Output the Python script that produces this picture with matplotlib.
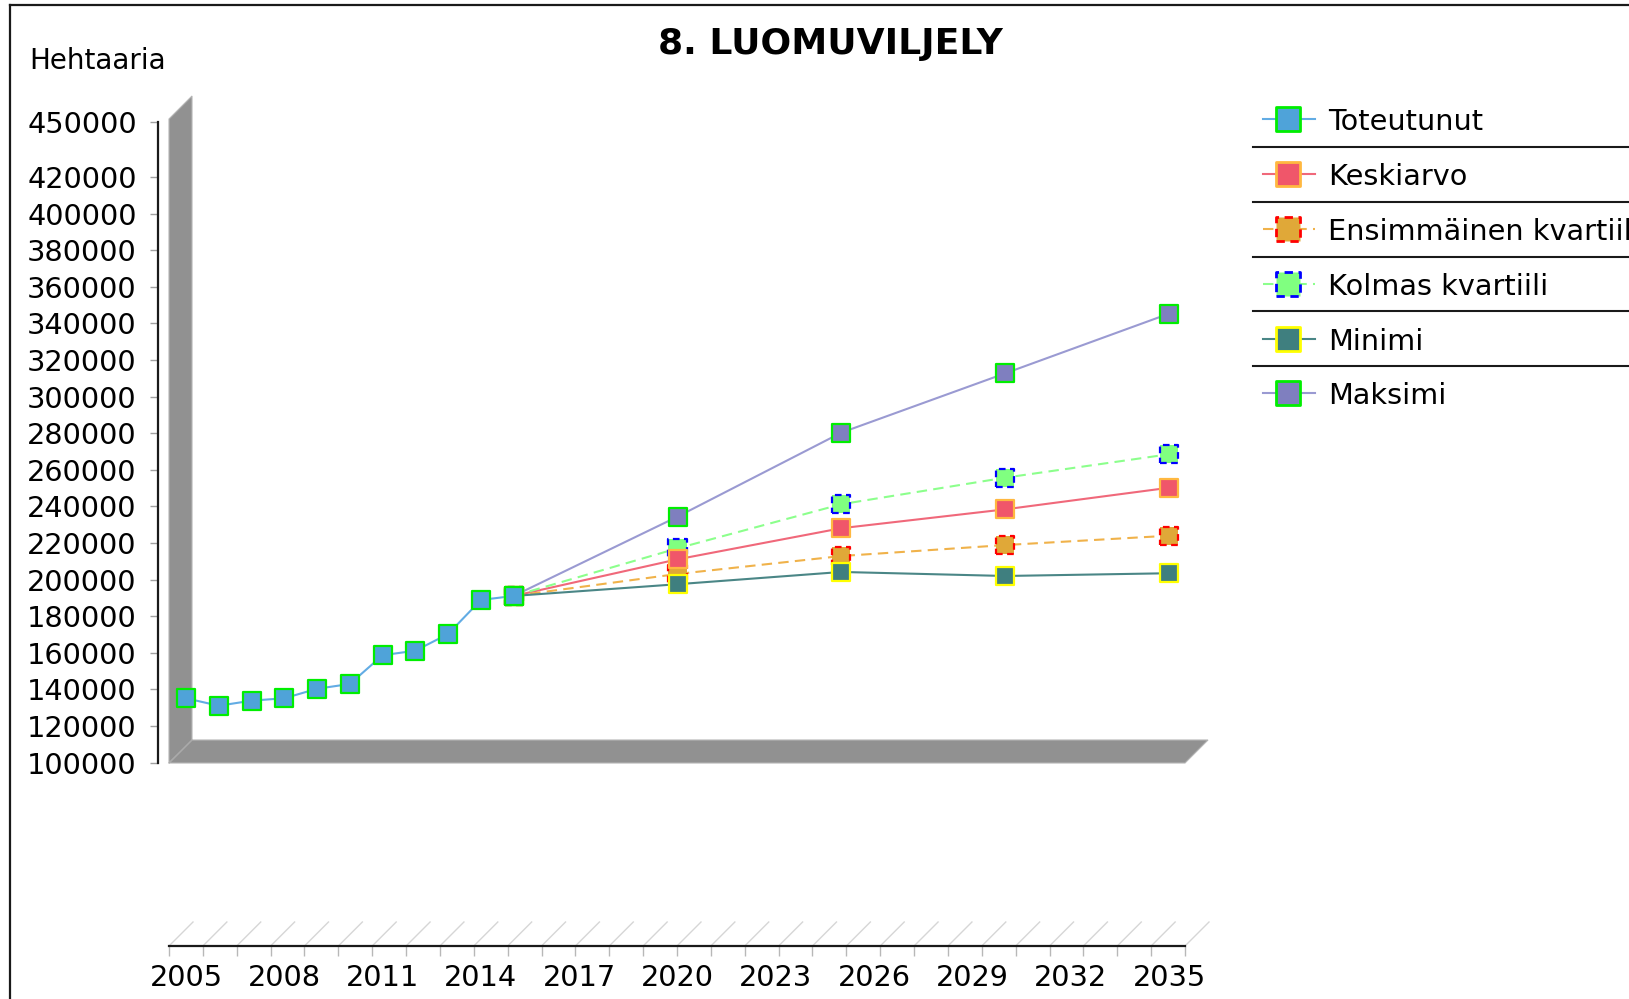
import matplotlib
matplotlib.use("Agg")
import matplotlib.pyplot as plt
from matplotlib.patches import Polygon

W, H = 1629, 999

# data (hehtaaria)
years_hist = [2005, 2006, 2007, 2008, 2009, 2010, 2011, 2012, 2013, 2014, 2015]
toteutunut = [135200, 131100, 133900, 135200, 140400, 143000, 158700, 161200, 170300, 188900, 191100]
years_fc = [2015, 2020, 2025, 2030, 2035]
keskiarvo = [191100, 211100, 228100, 238400, 250200]
ensimmainen = [191100, 203100, 212900, 218900, 224000]
kolmas = [191100, 217100, 241200, 255700, 268500]
minimi = [191100, 197500, 204200, 202000, 203500]
maksimi = [191100, 234400, 280300, 312700, 345300]

y_ticks = [100000, 120000, 140000, 160000, 180000, 200000, 220000, 240000, 260000,
           280000, 300000, 320000, 340000, 360000, 380000, 400000, 420000, 450000]
x_labels = list(range(2005, 2036, 3))

names = ["Toteutunut", "Keskiarvo", "Ensimmäinen kvartiili", "Kolmas kvartiili", "Minimi", "Maksimi"]
# (line colour, fill, edge, dashed)
styles = {
    "Toteutunut": ("#62ace4", "#4fa3d9", "#00ee00", False),
    "Keskiarvo": ("#f0687a", "#f0566a", "#ffb840", False),
    "Ensimmäinen kvartiili": ("#f0b24a", "#e0a838", "#ff0000", True),
    "Kolmas kvartiili": ("#8cff8c", "#80ff80", "#0000ff", True),
    "Minimi": ("#4a8686", "#3f7f7f", "#ffff00", False),
    "Maksimi": ("#9a9ad2", "#7f7fbf", "#00ee00", False),
}
series = {
    "Toteutunut": (years_hist, toteutunut),
    "Keskiarvo": (years_fc, keskiarvo),
    "Ensimmäinen kvartiili": (years_fc, ensimmainen),
    "Kolmas kvartiili": (years_fc, kolmas),
    "Minimi": (years_fc, minimi),
    "Maksimi": (years_fc, maksimi),
}
marker_z = {"Kolmas kvartiili": 4.0, "Ensimmäinen kvartiili": 4.1, "Keskiarvo": 4.2,
            "Minimi": 4.3, "Maksimi": 4.4, "Toteutunut": 5.0}


def box(l, t, r, b):
    return [l / W, 1 - b / H, (r - l) / W, (b - t) / H]


fig = plt.figure(figsize=(W / 100, H / 100), dpi=100)

# background layer in pixel coordinates: 3d wall, titles, legend, frame
bg = fig.add_axes([0, 0, 1, 1])
bg.set_xlim(0, W)
bg.set_ylim(H, 0)
bg.axis("off")

bg.add_patch(Polygon([(169, 763), (169, 119), (192, 96), (192, 741)], closed=True,
                     facecolor="#919191", edgecolor="#b5b5b5", lw=0.8))
bg.add_patch(Polygon([(169, 763), (192, 740), (1208, 740), (1185, 763)], closed=True,
                     facecolor="#919191", edgecolor="#b5b5b5", lw=0.8))
bg.plot([169, 192], [763, 740], color="#aaaaaa", lw=0.8)

bg.plot([10, W], [5, 5], color="#1a1a1a", lw=1.6)
bg.plot([10, 10], [5, H], color="#1a1a1a", lw=1.6)

bg.text(830.5, 54, "8. LUOMUVILJELY", ha="center", va="baseline", fontsize=26, fontweight="bold")
bg.text(29, 69, "Hehtaaria", ha="left", va="baseline", fontsize=20)

# legend with separator lines
for i, name in enumerate(names):
    lc, fc, ec, dashed = styles[name]
    y = 119.3 + i * 54.8
    bg.plot([1263, 1315], [y, y], color=lc, lw=1.5, ls=(0, (5, 3)) if dashed else "-")
    bg.scatter([1288], [y], marker="s", s=17 ** 2, facecolors=fc, edgecolors=ec,
               linewidths=2, linestyles=(0, (3, 2)) if dashed else "solid", zorder=3)
    bg.text(1328, y + 3, name, ha="left", va="center", fontsize=20.7)
    if i < len(names) - 1:
        ys = 147.3 + i * 54.7
        bg.plot([1253, W], [ys, ys], color="#1a1a1a", lw=1.5)

# data axes
ax = fig.add_axes(box(186, 122, 1169, 762.7))
ax.set_facecolor("none")
ax.set_xlim(2005, 2035)
ax.set_ylim(100000, 450000)
for s in ["top", "right", "bottom"]:
    ax.spines[s].set_visible(False)
ax.spines["left"].set_position(("outward", 20.2))
ax.spines["left"].set_linewidth(1.6)
ax.spines["left"].set_color("#1a1a1a")
ax.tick_params(axis="x", bottom=False, labelbottom=False)
ax.set_yticks(y_ticks)
ax.set_yticklabels([str(v) for v in y_ticks])
ax.tick_params(axis="y", length=5.8, width=1, color="#a0a0a0", pad=9.4, labelsize=20.7)

for name in names:
    lc, fc, ec, dashed = styles[name]
    xs, ys = series[name]
    ax.plot(xs, ys, color=lc, lw=1.5, ls=(0, (5, 3)) if dashed else "-",
            zorder=3 if name == "Toteutunut" else 2, clip_on=False)
    ax.scatter(xs, ys, marker="s", s=13 ** 2, facecolors=fc, edgecolors=ec, linewidths=1.6,
               linestyles=(0, (3, 2)) if dashed else "solid", zorder=marker_z[name], clip_on=False)

# 3d x axis below the chart
ax2 = fig.add_axes(box(169, 900, 1185, 946))
ax2.set_facecolor("none")
ax2.set_xlim(2005, 2035)
ax2.set_ylim(0, 1)
for s in ["top", "right", "left"]:
    ax2.spines[s].set_visible(False)
ax2.spines["bottom"].set_linewidth(1.6)
ax2.spines["bottom"].set_color("#1a1a1a")
ax2.set_xticks(range(2005, 2036))
ax2.set_yticks([])
ax2.tick_params(axis="x", length=7.2, width=1, color="#b8b8b8", labelbottom=False)
step = 24 / (1016 / 30)
for yr in range(2005, 2036):
    ax2.plot([yr, yr + step], [0, 24 / 46], color="#d6d6d6", lw=1, clip_on=False)

ax3 = fig.add_axes(box(186, 940, 1169, 946))
ax3.set_facecolor("none")
ax3.set_xlim(2005, 2035)
for s in ["top", "right", "left", "bottom"]:
    ax3.spines[s].set_visible(False)
ax3.set_yticks([])
ax3.set_xticks(x_labels)
ax3.set_xticklabels([str(v) for v in x_labels])
ax3.tick_params(axis="x", length=0, pad=13, labelsize=20.7)

fig.savefig("out.png", dpi=100)
